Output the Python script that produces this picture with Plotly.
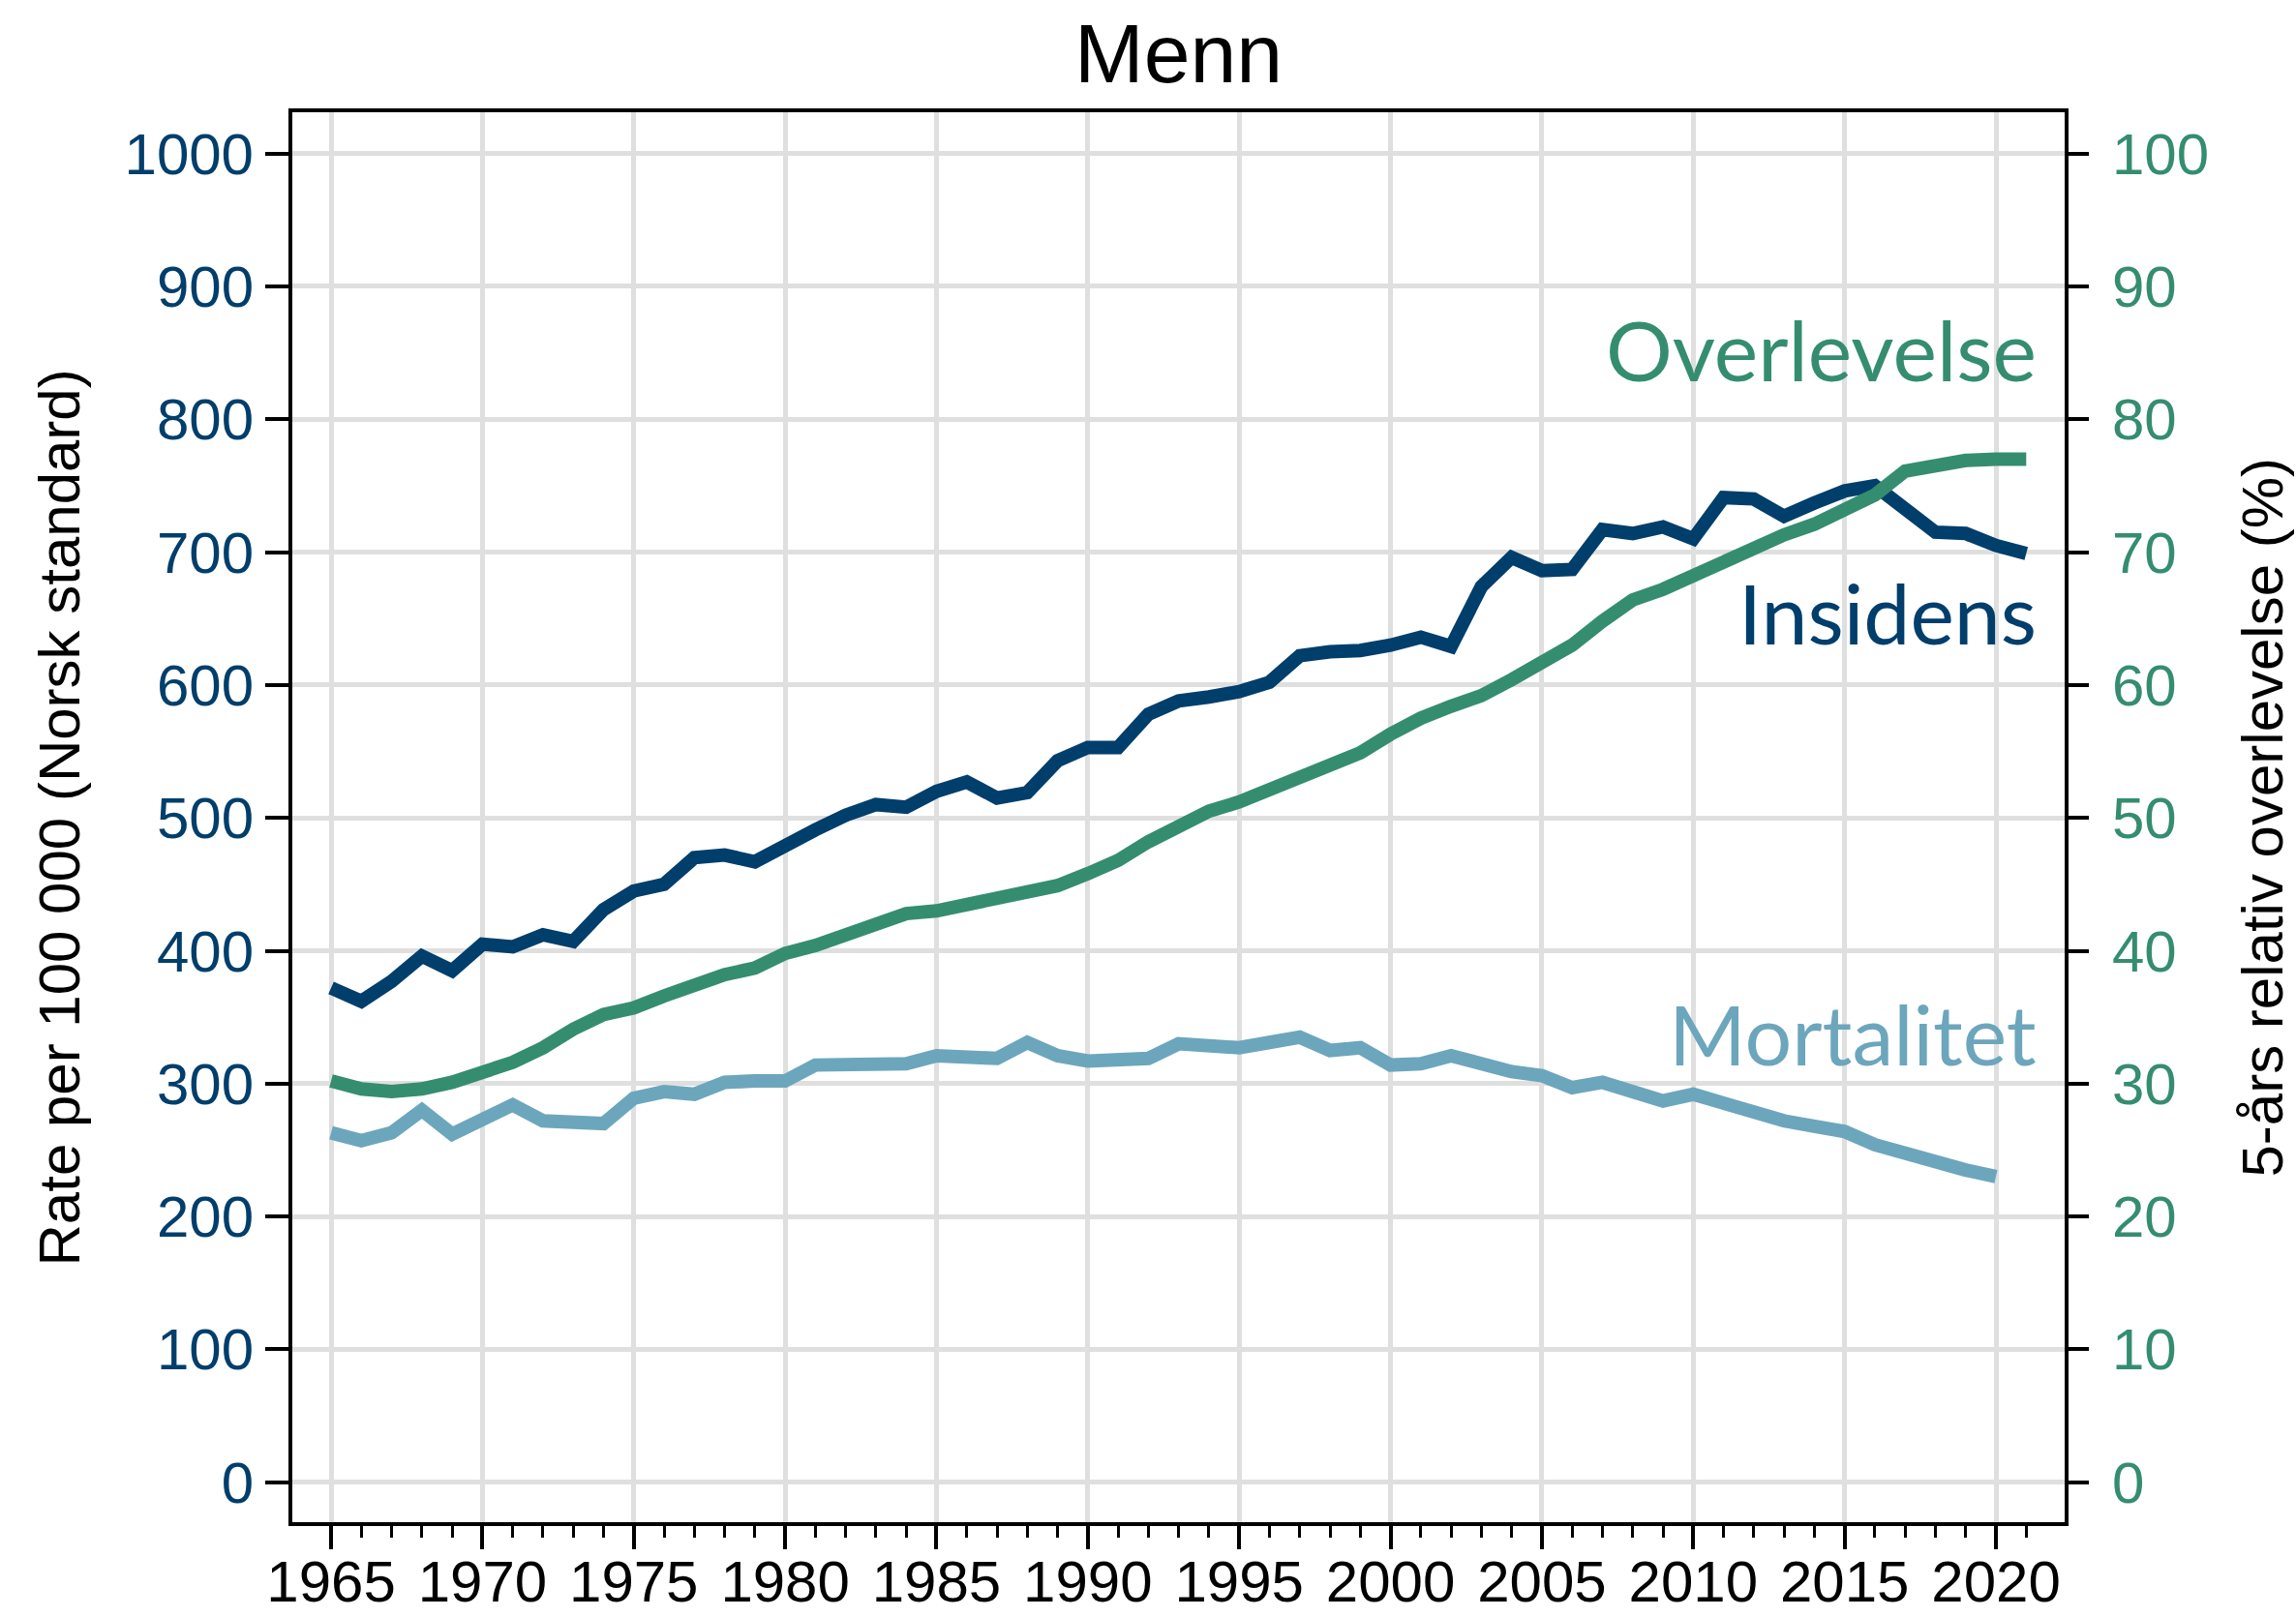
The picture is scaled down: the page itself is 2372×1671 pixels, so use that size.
import plotly.graph_objects as go

# Years
years = list(range(1965, 2022))
years_mort = list(range(1965, 2021))

# Incidence per 100 000 (Norwegian standard population)
insidens = [372, 362, 377, 396, 385, 405, 403, 412, 407, 431,
            445, 450, 470, 472, 467, 480, 491, 502, 510, 508,
            520, 527, 515, 519, 543, 553, 553, 578, 588, 591,
            595, 602, 622, 625, 626, 630, 636, 629, 674, 696,
            686, 687, 717, 714, 719, 710, 741, 740, 727, 737,
            746, 750, 731, 715, 714, 705, 699]

# Mortality per 100 000
mortalitet = [263, 257, 263, 280, 262, 272, 284, 272, 272, 270,
              289, 294, 292, 301, 302, 302, 314, 314, 314, 315,
              321, 320, 319, 331, 321, 317, 318, 319, 330, 329,
              327, 331, 335, 325, 327, 314, 315, 321, 315, 309,
              306, 297, 301, 295, 287, 292, 285, 277, 272, 268,
              264, 254, 247, 240, 235, 230]

# 5-year relative survival (%)
overlevelse = [30.2, 29.6, 29.4, 29.6, 30.1, 30.8, 31.6, 32.7, 34.1, 35.2,
               35.7, 36.6, 37.5, 38.2, 38.7, 39.8, 40.4, 41.2, 41.8, 42.8,
               43.0, 43.5, 43.8, 44.3, 44.9, 45.8, 46.8, 48.2, 49.4, 50.5,
               51.2, 52.1, 52.9, 53.9, 54.9, 56.3, 57.5, 58.4, 59.2, 60.4,
               61.6, 63.0, 64.8, 66.4, 67.2, 68.2, 69.3, 70.4, 71.3, 72.1,
               73.1, 74.3, 76.1, 76.5, 76.9, 77.0, 77.0]

rate_ticks = list(range(0, 1001, 100))
pct_ticks = list(range(0, 101, 10))
year_ticks = list(range(1965, 2021, 5))

NAVY = "#003e6b"
GREEN = "#358d6f"
LIGHT = "#6ca6bc"
GRID = "#dfdfdf"
SANS = "Liberation Sans, Arial, sans-serif"
LABEL = "Lato, Carlito, Calibri, sans-serif"
LINE_W = 14

fig = go.Figure()
fig.add_trace(go.Scatter(x=years_mort, y=mortalitet, mode="lines",
                         line=dict(color=LIGHT, width=LINE_W), yaxis="y"))
fig.add_trace(go.Scatter(x=years, y=insidens, mode="lines",
                         line=dict(color=NAVY, width=LINE_W), yaxis="y"))
fig.add_trace(go.Scatter(x=years, y=overlevelse, mode="lines",
                         line=dict(color=GREEN, width=LINE_W), yaxis="y2"))

axis_common = dict(ticks="outside", ticklen=24, tickwidth=3.5, tickcolor="black",
                   zeroline=False)

fig.update_layout(
    width=2372, height=1671,
    margin=dict(l=302, r=239, t=116, b=98, autoexpand=False),
    paper_bgcolor="white", plot_bgcolor="white",
    showlegend=False,
    xaxis=dict(range=[1963.72, 2022.27], tickmode="array", tickvals=year_ticks,
               ticktext=[str(v) for v in year_ticks],
               showline=True, linewidth=4, linecolor="black", mirror=True,
               showgrid=True, gridcolor=GRID, gridwidth=4.5,
               tickfont=dict(family=SANS, size=60, color="black"),
               ticklabelstandoff=-18,
               minor=dict(tickmode="array", tickvals=years, ticks="outside",
                          ticklen=12, tickwidth=3, tickcolor="black", showgrid=False),
               **axis_common),
    yaxis=dict(range=[-30, 1031], tickmode="array", tickvals=rate_ticks,
               showline=True, linewidth=4, linecolor="black", mirror=True,
               showgrid=True, gridcolor=GRID, gridwidth=4.5,
               tickfont=dict(family=SANS, size=60, color=NAVY),
               ticklabelstandoff=0,
               **axis_common),
    yaxis2=dict(range=[-3, 103.1], tickmode="array", tickvals=pct_ticks,
                overlaying="y", side="right", showline=False, showgrid=False,
                tickfont=dict(family=SANS, size=60, color=GREEN),
                ticklabelstandoff=12,
                **axis_common),
)

annotations = [
    dict(text="Menn", xref="paper", yref="paper", x=0.5, y=1.0419,
         xanchor="center", yanchor="middle", showarrow=False,
         font=dict(family=SANS, size=86, color="black")),
    dict(text="Rate per 100 000 (Norsk standard)", xref="paper", yref="paper",
         x=-0.1311, y=0.5, xanchor="center", yanchor="middle", textangle=-90,
         showarrow=False, font=dict(family=SANS, size=60, color="black")),
    dict(text="5-års relativ overlevelse (%)", xref="paper", yref="paper",
         x=(2337 - 302) / 1831, y=0.5, xanchor="center", yanchor="middle",
         textangle=-90, showarrow=False,
         font=dict(family=SANS, size=60, color="black")),
    dict(text="Overlevelse", xref="paper", yref="y", x=(2106 - 302) / 1831, y=853,
         xanchor="right", yanchor="middle", showarrow=False,
         font=dict(family=LABEL, size=86, color=GREEN)),
    dict(text="Insidens", xref="paper", yref="y", x=(2106 - 302) / 1831, y=655,
         xanchor="right", yanchor="middle", showarrow=False,
         font=dict(family=LABEL, size=86, color=NAVY)),
    dict(text="Mortalitet", xref="paper", yref="y", x=(2106 - 302) / 1831, y=338,
         xanchor="right", yanchor="middle", showarrow=False,
         font=dict(family=LABEL, size=86, color=LIGHT)),
]
fig.update_layout(annotations=annotations)

fig.write_html("out.html")
